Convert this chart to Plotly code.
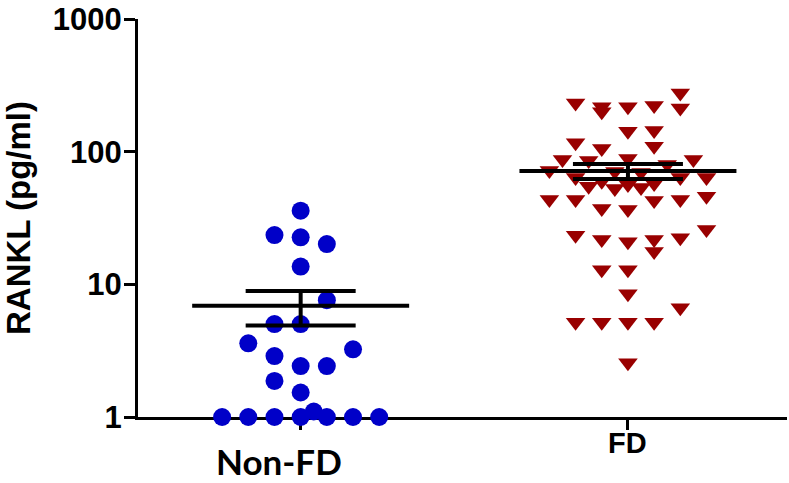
import plotly.graph_objects as go

# ---- data ----
groups = ["Non-FD", "FD"]

nonfd_values = [35.9, 23.5, 22.6, 20.1, 13.6, 7.6, 5.02, 5.02, 3.59, 3.24,
                2.88, 2.42, 2.42, 1.87, 1.53, 1.10,
                1.0, 1.0, 1.0, 1.0, 1.0, 1.0, 1.0]
nonfd_slots = [0, -2, 0, 2, 0, 2, -2, 0, -4, 4,
               -2, 0, 2, -2, 0, 1,
               -6, -4, -2, 0, 2, 4, 6]

fd_values = [277, 233, 217.6, 199.5, 217.6, 222.6, 213.8, 142.5, 144.2, 116.5,
             109.8, 105.5, 87.2, 85.7, 88.7, 87.2, 80.0, 72.0, 70.8, 69.6,
             63.8, 63.8, 63.8, 59.8, 56.5, 57.5, 54.8, 52.7, 53.6, 43.6,
             43.6, 37.3, 36.6, 42.8, 43.6, 46.1, 23.4, 21.8, 20.9, 21.8,
             17.7, 22.4, 25.9, 12.9, 12.9, 8.5, 6.65, 5.18, 5.18, 5.18,
             5.18, 2.56]
fd_slots = [4, -4, -2, -2, 0, 2, 4, 0, 2, -4,
            2, -2, -5, -3, 0, 5, 3, -6, -1, 1,
            -4, 4, 6, -2, 0, 2, -3, -1, 1, -6,
            -4, -2, 0, 2, 4, 6, -4, -2, 0, 2,
            2, 4, 6, -2, 0, 0, 4, -4, -2, 0,
            2, 0]

group_means = [6.9, 71.4]
group_sems = [2.0, 9.2]

y_tickvals = [1, 10, 100, 1000]
y_ticktext = ["1", "10", "100", "1000"]
y_title = "RANKL (pg/ml)"

# ---- styling ----
SLOT = 0.04
MEAN_HALF = 0.3315
BLUE = "#0000C8"
RED = "#990000"
AX_FONT = dict(family="Liberation Sans, Arial, sans-serif", size=31, color="black", weight="bold")

fig = go.Figure()

fig.add_trace(go.Scatter(
    x=[0 + s * SLOT for s in nonfd_slots], y=nonfd_values, mode="markers",
    marker=dict(symbol="circle", size=18, color=BLUE, line=dict(width=0)),
    cliponaxis=False, showlegend=False, name=groups[0]))

fig.add_trace(go.Scatter(
    x=[1 + s * SLOT for s in fd_slots], y=fd_values, mode="markers",
    marker=dict(symbol="triangle-down", size=17, color=RED, line=dict(width=0)),
    cliponaxis=False, showlegend=False, name=groups[1]))

for i, (m, se) in enumerate(zip(group_means, group_sems)):
    fig.add_trace(go.Scatter(
        x=[i - MEAN_HALF, i + MEAN_HALF], y=[m, m], mode="lines",
        line=dict(color="black", width=4), showlegend=False, hoverinfo="skip"))
    fig.add_trace(go.Scatter(
        x=[i], y=[m], mode="markers",
        marker=dict(size=1, color="rgba(0,0,0,0)"),
        error_y=dict(type="data", array=[se], color="black", thickness=4, width=55),
        showlegend=False))

fig.update_layout(
    width=789, height=483,
    margin=dict(l=138, r=2, t=19, b=66, autoexpand=False),
    paper_bgcolor="white", plot_bgcolor="white",
    font=AX_FONT,
    xaxis=dict(range=[-0.497, 1.486], tickvals=[0, 1], showticklabels=False,
               showline=True, linecolor="black", linewidth=3,
               ticks="outside", ticklen=10, tickwidth=3, tickcolor="black",
               showgrid=False, zeroline=False, layer="below traces", automargin=False),
    yaxis=dict(type="log", range=[0, 3], tickvals=y_tickvals, ticktext=y_ticktext,
               showline=True, linecolor="black", linewidth=3,
               ticks="outside", ticklen=11, tickwidth=3, tickcolor="black",
               tickfont=AX_FONT, ticklabelstandoff=-4,
               showgrid=False, zeroline=False, automargin=False,
               title=dict(text=y_title, font=dict(family="Liberation Sans, Arial, sans-serif",
                                                 size=33, color="black", weight="bold"),
                          standoff=18)),
    annotations=[
        dict(x=0, y=0, xref="x", yref="paper", text=groups[0], showarrow=False,
             yanchor="top", yshift=-21, xshift=-22,
             font=dict(family="Lato, sans-serif", size=35, color="black", weight="bold")),
        dict(x=1, y=0, xref="x", yref="paper", text=groups[1], showarrow=False,
             yanchor="top", yshift=-8,
             font=dict(family="Liberation Sans, Arial, sans-serif", size=29, color="black", weight="bold")),
    ],
)

fig.write_html("out.html", config={"displayModeBar": False},
               post_script="document.body.style.margin='0px';")
